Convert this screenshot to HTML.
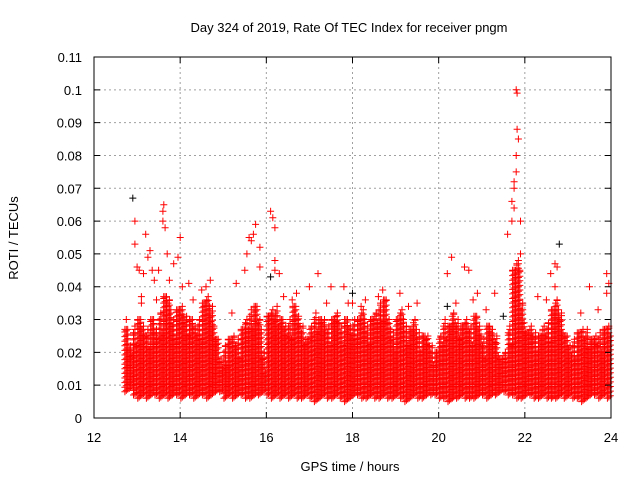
<!DOCTYPE html>
<html><head><meta charset="utf-8"><style>
html,body{margin:0;padding:0;background:#fff;}
svg{display:block;font-family:"Liberation Sans",sans-serif;}
</style></head><body>
<svg id="chart" width="640" height="480" viewBox="0 0 640 480" xmlns="http://www.w3.org/2000/svg">
<rect width="640" height="480" fill="#fff"/>
<text x="349" y="32" font-size="13" text-anchor="middle">Day 324 of 2019, Rate Of TEC Index for receiver pngm</text>
<text transform="translate(18,238) rotate(-90)" font-size="13" text-anchor="middle">ROTI / TECUs</text>
<text x="350" y="471" font-size="13" text-anchor="middle">GPS time / hours</text>
<g id="grid"></g>
<g id="marks"></g>
<g id="axes"></g>
</svg>
<script>
const xTicks=[12,14,16,18,20,22,24];
const yTicks=[0,0.01,0.02,0.03,0.04,0.05,0.06,0.07,0.08,0.09,0.1,0.11];
const yTickLabels=["0","0.01","0.02","0.03","0.04","0.05","0.06","0.07","0.08","0.09","0.1","0.11"];
const binStart=12.7, binWidth=0.1;
const binHi=[0.027,0.022,0.028,0.03,0.028,0.027,0.03,0.027,0.032,0.037,0.036,0.03,0.033,0.034,0.031,0.03,0.028,0.03,0.035,0.037,0.034,0.024,0.018,0.022,0.024,0.025,0.024,0.027,0.03,0.033,0.034,0.03,0.02,0.031,0.033,0.034,0.03,0.028,0.03,0.034,0.031,0.028,0.024,0.028,0.032,0.03,0.03,0.028,0.03,0.032,0.028,0.03,0.028,0.03,0.03,0.033,0.028,0.03,0.032,0.035,0.036,0.03,0.026,0.03,0.033,0.028,0.027,0.03,0.026,0.025,0.025,0.022,0.02,0.025,0.03,0.028,0.032,0.03,0.028,0.03,0.028,0.031,0.028,0.024,0.028,0.027,0.025,0.018,0.02,0.028,0.045,0.048,0.035,0.026,0.028,0.026,0.025,0.028,0.029,0.033,0.036,0.032,0.025,0.022,0.024,0.026,0.027,0.027,0.024,0.025,0.026,0.027,0.028];
const binLo=[0.008,0.009,0.007,0.006,0.007,0.006,0.007,0.007,0.006,0.007,0.006,0.007,0.007,0.006,0.007,0.007,0.006,0.007,0.007,0.006,0.007,0.008,0.008,0.006,0.007,0.006,0.007,0.007,0.006,0.006,0.007,0.007,0.008,0.007,0.006,0.007,0.006,0.007,0.006,0.007,0.006,0.006,0.007,0.006,0.005,0.006,0.007,0.006,0.006,0.007,0.006,0.005,0.006,0.007,0.007,0.006,0.006,0.007,0.006,0.006,0.007,0.006,0.006,0.007,0.006,0.005,0.006,0.007,0.006,0.006,0.007,0.007,0.007,0.006,0.006,0.005,0.006,0.006,0.007,0.006,0.006,0.006,0.007,0.007,0.006,0.007,0.007,0.008,0.008,0.007,0.007,0.006,0.006,0.007,0.007,0.006,0.006,0.007,0.006,0.006,0.006,0.007,0.006,0.007,0.006,0.006,0.005,0.006,0.007,0.007,0.006,0.007,0.006];
const outT=[12.95,12.95,13.0,13.05,13.1,13.15,13.2,13.25,13.3,13.35,13.4,13.5,13.6,13.62,13.6,13.65,13.7,13.75,13.85,14.0,13.95,14.05,14.2,14.5,14.7,15.3,15.6,15.65,15.7,15.55,15.5,15.75,15.85,15.85,16.1,16.15,16.2,16.2,16.2,16.3,16.4,16.6,17.0,17.2,17.5,17.8,18.0,18.3,18.7,19.1,19.5,20.2,20.3,20.6,20.7,20.9,21.3,21.6,21.7,21.75,21.75,21.8,21.8,21.82,21.85,21.8,21.82,21.75,21.7,21.9,21.9,22.3,22.6,22.7,22.75,22.7,23.5,23.9,23.95,23.9,13.1,13.45,14.3,14.6,16.7,17.4,18.2,18.6,19.3,20.4,20.8,21.1,22.5,23.3,23.7,12.75,15.2,17.9];
const outV=[0.06,0.053,0.046,0.045,0.037,0.044,0.056,0.049,0.051,0.045,0.042,0.045,0.063,0.065,0.06,0.058,0.05,0.042,0.047,0.055,0.049,0.04,0.041,0.039,0.042,0.041,0.055,0.054,0.056,0.05,0.045,0.059,0.052,0.046,0.063,0.061,0.058,0.048,0.045,0.044,0.037,0.036,0.04,0.044,0.04,0.04,0.035,0.036,0.039,0.038,0.035,0.044,0.049,0.046,0.045,0.038,0.038,0.056,0.06,0.064,0.07,0.075,0.08,0.088,0.085,0.1,0.099,0.072,0.066,0.06,0.05,0.037,0.044,0.047,0.046,0.04,0.04,0.044,0.041,0.038,0.035,0.036,0.036,0.04,0.038,0.035,0.034,0.037,0.034,0.035,0.036,0.033,0.036,0.032,0.033,0.03,0.032,0.035];
const blackT=[12.9,22.8,18.0,16.1,20.2,21.5];
const blackV=[0.067,0.053,0.038,0.043,0.034,0.031];

const L=94,R=611,T=57,B=418,xmin=12,xmax=24,ymax=0.11;
const X=t=>L+(t-xmin)/(xmax-xmin)*(R-L);
const Y=v=>B-v/ymax*(B-T);
const NS="http://www.w3.org/2000/svg";
function mk(tag,attrs,parent){const e=document.createElementNS(NS,tag);for(const k in attrs)e.setAttribute(k,attrs[k]);parent.appendChild(e);return e;}
const grid=document.getElementById('grid'),marks=document.getElementById('marks'),axes=document.getElementById('axes');
xTicks.forEach((t,i)=>{
  if(i>0&&i<xTicks.length-1){const g=mk('line',{x1:X(t),x2:X(t),y1:T,y2:B,stroke:'#a0a0a0','stroke-dasharray':'2,3'},grid);
  
  }
  const tk=mk('path',{d:`M${X(t)},${B}v-6M${X(t)},${T}v6`,stroke:'#000'},axes);
  
  
  const tx=mk('text',{x:X(t),y:442,'font-size':13,'text-anchor':'middle'},axes);tx.textContent=t;
  
  
});
yTicks.forEach((v,i)=>{
  if(i>0&&i<yTicks.length-1){const g=mk('line',{x1:L,x2:R,y1:Y(v),y2:Y(v),stroke:'#a0a0a0','stroke-dasharray':'2,3'},grid);
  
  }
  const tk=mk('path',{d:`M${L},${Y(v)}h6M${R},${Y(v)}h-6`,stroke:'#000'},axes);
  
  
  const tx=mk('text',{x:82,y:Y(v)+5,'font-size':13,'text-anchor':'end'},axes);tx.textContent=yTickLabels[i];
  
  
});
const border=mk('rect',{x:L,y:T,width:R-L,height:B-T,fill:'none',stroke:'#000'},axes);


const plus=(x,y)=>`M${(x-3.5).toFixed(1)},${y.toFixed(1)}h7M${x.toFixed(1)},${(y-3.5).toFixed(1)}v7`;
binHi.forEach((hi,i)=>{
  const t0=binStart+i*binWidth;let d='';const lo=binLo[i];
  for(let c=0;c<3;c++){
    const x=X(t0+binWidth*(c+0.5)/3);
    const top=hi-(c===1?0:0.002*(c+1)*((i%3)/2));
    for(let v=lo+c*0.0004;v<=top;v+=0.0014){d+=plus(x,Y(v));}
    d+=plus(x,Y(top));
  }
  const p=mk('path',{d:d,stroke:'#ff0000','stroke-width':1,fill:'none'},marks);
  
  
});
outT.forEach((t,i)=>{
  const p=mk('path',{d:plus(X(t),Y(outV[i])),stroke:'#ff0000','stroke-width':1},marks);
  
  
});
blackT.forEach((t,i)=>{
  const p=mk('path',{d:plus(X(t),Y(blackV[i])),stroke:'#000','stroke-width':1},marks);
  
  
});
</script>
</body></html>
